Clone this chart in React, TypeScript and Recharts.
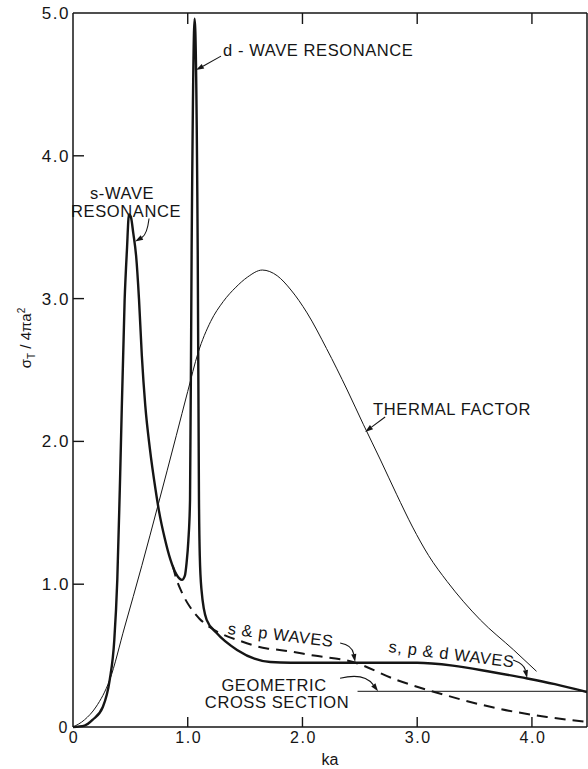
import React from 'react'
import { LineChart, Line, XAxis, YAxis, ReferenceDot } from 'recharts'

// total cross section, s + p + d waves (heavy solid)
const fullKa = [0, 0.1, 0.17, 0.26, 0.32, 0.36, 0.386, 0.41, 0.45, 0.47, 0.488, 0.505, 0.525, 0.55, 0.575, 0.6, 0.63, 0.67, 0.72, 0.75, 0.8, 0.85, 0.9, 0.95, 0.975, 0.99, 1.005, 1.02, 1.034, 1.06, 1.087, 1.098, 1.105, 1.12, 1.165, 1.25, 1.43, 1.72, 1.9, 2.5, 3.0, 3.31, 3.65, 3.96, 4.2, 4.48]
const fullSigma = [0, 0.01, 0.05, 0.14, 0.33, 0.61, 1.03, 1.73, 2.99, 3.34, 3.59, 3.57, 3.46, 3.3, 3.0, 2.6, 2.25, 1.95, 1.66, 1.51, 1.32, 1.17, 1.07, 1.03, 1.06, 1.15, 1.3, 1.59, 3.34, 4.96, 3.34, 1.59, 1.2, 0.96, 0.75, 0.66, 0.54, 0.455, 0.45, 0.45, 0.45, 0.43, 0.385, 0.34, 0.3, 0.245]

// s & p waves only (dashed, where it leaves the full curve)
const spKa = [0.87, 0.9, 0.95, 1.02, 1.1, 1.19, 1.3, 1.43, 1.69, 1.8, 2.1, 2.44, 2.82, 3.26, 3.7, 4.13, 4.48]
const spSigma = [1.13, 1.04, 0.94, 0.84, 0.76, 0.7, 0.65, 0.61, 0.55, 0.54, 0.5, 0.455, 0.33, 0.22, 0.13, 0.07, 0.035]

// thermal factor (thin)
const thermalKa = [0, 0.1, 0.2, 0.32, 0.45, 0.6, 0.74, 0.9, 1.0, 1.09, 1.2, 1.31, 1.42, 1.52, 1.65, 1.78, 1.9, 2.04, 2.21, 2.39, 2.53, 2.68, 2.82, 2.96, 3.1, 3.26, 3.55, 3.84, 4.04]
const thermalSigma = [0, 0.05, 0.14, 0.33, 0.7, 1.13, 1.55, 2.04, 2.35, 2.62, 2.84, 2.98, 3.08, 3.15, 3.2, 3.16, 3.06, 2.9, 2.65, 2.36, 2.12, 1.87, 1.63, 1.4, 1.2, 1.02, 0.75, 0.54, 0.39]

// geometric cross section
const geoKa = [2.48, 4.48]
const geoSigma = [0.25, 0.25]

const xTicks = [0, 1, 2, 3, 4]
const yTicks = [0, 1, 2, 3, 4, 5]

const pairs = (xs: number[], ys: number[]) => xs.map((x, i) => ({ x, y: ys[i] }))
const fullData = pairs(fullKa, fullSigma)
const spData = pairs(spKa, spSigma)
const thermalData = pairs(thermalKa, thermalSigma)
const geoData = pairs(geoKa, geoSigma)

const INK = '#151515'
const FONT = '"Liberation Sans", Arial, sans-serif'

const fmt = (v: number) => (v === 0 ? '0' : v.toFixed(1))

function BottomTick(props: any) {
  const { x, y, payload } = props
  const v = payload.value
  return (
    <g>
      {v !== 0 && <line x1={x} y1={y} x2={x} y2={y - 10} stroke={INK} strokeWidth={1.4} />}
      <text x={x + 1} y={y + 16} textAnchor="middle" fontSize={16} letterSpacing={1.5} fontFamily={FONT} fill={INK}>
        {fmt(v)}
      </text>
    </g>
  )
}

function LeftTick(props: any) {
  const { x, y, payload } = props
  const v = payload.value
  if (v === 0) {
    return (
      <text x={x - 10} y={y + 6} textAnchor="middle" fontSize={16} fontFamily={FONT} fill={INK}>0</text>
    )
  }
  return (
    <g>
      {v !== 5 && <line x1={x} y1={y} x2={x + 11} y2={y} stroke={INK} strokeWidth={1.4} />}
      <text x={x - 3} y={y + 6} textAnchor="end" fontSize={17} letterSpacing={1.5} fontFamily={FONT} fill={INK}>
        {fmt(v)}
      </text>
    </g>
  )
}

function TopTick(props: any) {
  const { x, y } = props
  return <line x1={x} y1={y} x2={x} y2={y + 11} stroke={INK} strokeWidth={1.4} />
}

function RightTick(props: any) {
  const { x, y } = props
  return <line x1={x} y1={y} x2={x - 10} y2={y} stroke={INK} strokeWidth={1.4} />
}

function YTitle() {
  return (
    <text transform="translate(31,338) rotate(-90)" textAnchor="middle" fontSize={15} fontFamily={FONT} fill={INK}>
      σ<tspan fontSize={10} dy={4}>T</tspan>
      <tspan dy={-4}> / 4πa</tspan>
      <tspan fontSize={10} dy={-6}>2</tspan>
    </text>
  )
}

function XTitle() {
  return (
    <text x={330} y={765} textAnchor="middle" fontSize={16} fontFamily={FONT} fill={INK}>ka</text>
  )
}

interface NoteLine {
  text: string
  dx: number
  dy: number
  anchor: 'start' | 'middle'
  rotate?: number
}

interface Note {
  x: number
  y: number
  lines: NoteLine[]
  from: [number, number]
  ctrl?: [number, number]
}

// labels with arrows, anchored on the curve point they point to
const notes: Note[] = [
  { x: 1.072, y: 4.6, from: [25, -14], lines: [{ text: 'd - WAVE  RESONANCE', dx: 27, dy: -14, anchor: 'start' }] },
  {
    x: 0.541, y: 3.4, from: [14, -23], ctrl: [12, -7],
    lines: [
      { text: 's-WAVE', dx: -13, dy: -42, anchor: 'middle' },
      { text: 'RESONANCE', dx: -9, dy: -24, anchor: 'middle' },
    ],
  },
  { x: 2.546, y: 2.066, from: [20, -15], lines: [{ text: 'THERMAL  FACTOR', dx: 8, dy: -17, anchor: 'start' }] },
  { x: 2.459, y: 0.455, from: [-15, -19], ctrl: [-3, -17], lines: [{ text: 's & p WAVES', dx: -128, dy: -28, anchor: 'start', rotate: 7 }] },
  { x: 3.958, y: 0.343, from: [-14, -18], ctrl: [-3, -14], lines: [{ text: 's, p & d WAVES', dx: -139, dy: -26, anchor: 'start', rotate: 7 }] },
  {
    x: 2.659, y: 0.25, from: [-38, -13], ctrl: [-14, -19],
    lines: [
      { text: 'GEOMETRIC', dx: -104, dy: 0, anchor: 'middle' },
      { text: 'CROSS SECTION', dx: -101, dy: 17, anchor: 'middle' },
    ],
  },
]

function NoteMark({ cx, cy, note }: { cx: number; cy: number; note: Note }) {
  const [sx, sy] = note.from
  const [kx, ky] = note.ctrl ?? note.from
  const len = Math.hypot(kx, ky) || 1
  const ux = -kx / len
  const uy = -ky / len
  const bx = cx - ux * 8
  const by = cy - uy * 8
  const px = -uy * 2.6
  const py = ux * 2.6
  const path = note.ctrl
    ? `M${cx + sx},${cy + sy} Q${cx + kx},${cy + ky} ${bx},${by}`
    : `M${cx + sx},${cy + sy} L${bx},${by}`
  return (
    <g>
      <path d={path} fill="none" stroke={INK} strokeWidth={1.1} />
      <path d={`M${cx},${cy} L${bx + px},${by + py} L${bx - px},${by - py} Z`} fill={INK} />
      {note.lines.map((l, i) => {
        const tx = cx + l.dx
        const ty = cy + l.dy
        return (
          <text
            key={i}
            x={tx}
            y={ty}
            textAnchor={l.anchor}
            transform={l.rotate ? `rotate(${l.rotate},${tx},${ty})` : undefined}
            fontSize={16.5}
            letterSpacing={0.6}
            fontFamily={FONT}
            fill={INK}
          >
            {l.text}
          </text>
        )
      })}
    </g>
  )
}

export default function App() {
  const axisLine = { stroke: INK, strokeWidth: 1.5 }
  return (
    <div style={{ position: 'absolute', left: 0, top: 0, width: 588, height: 769, background: '#fff' }}>
      <LineChart width={588} height={769} margin={{ top: 0, right: 0, bottom: 0, left: 0 }}>
        <XAxis
          xAxisId="b"
          type="number"
          dataKey="x"
          domain={[0, 4.48]}
          allowDataOverflow
          ticks={xTicks}
          height={42}
          tickSize={0}
          tickMargin={0}
          tick={<BottomTick />}
          tickLine={false}
          axisLine={axisLine}
          label={<XTitle />}
        />
        <XAxis
          xAxisId="t"
          orientation="top"
          type="number"
          dataKey="x"
          domain={[0, 4.48]}
          allowDataOverflow
          ticks={[1, 2, 3, 4]}
          height={13}
          tickSize={0}
          tickMargin={0}
          tick={<TopTick />}
          tickLine={false}
          axisLine={axisLine}
        />
        <YAxis
          yAxisId="l"
          type="number"
          domain={[0, 5]}
          ticks={yTicks}
          width={73}
          tickSize={0}
          tickMargin={0}
          tick={<LeftTick />}
          tickLine={false}
          axisLine={axisLine}
          label={<YTitle />}
        />
        <YAxis
          yAxisId="r"
          orientation="right"
          type="number"
          domain={[0, 5]}
          ticks={[1, 2, 3, 4]}
          width={1}
          tickSize={0}
          tickMargin={0}
          tick={<RightTick />}
          tickLine={false}
          axisLine={axisLine}
        />
        <Line xAxisId="b" yAxisId="l" data={geoData} dataKey="y" type="linear" stroke={INK} strokeWidth={1} dot={false} isAnimationActive={false} />
        <Line xAxisId="b" yAxisId="l" data={thermalData} dataKey="y" type="monotone" stroke={INK} strokeWidth={1} dot={false} isAnimationActive={false} />
        <Line xAxisId="b" yAxisId="l" data={spData} dataKey="y" type="monotone" stroke={INK} strokeWidth={2} strokeDasharray="11 7" dot={false} isAnimationActive={false} />
        <Line xAxisId="b" yAxisId="l" data={fullData} dataKey="y" type="monotone" stroke={INK} strokeWidth={2.4} dot={false} isAnimationActive={false} />
        {notes.map((n, i) => (
          <ReferenceDot
            key={i}
            xAxisId="b"
            yAxisId="l"
            x={n.x}
            y={n.y}
            r={0}
            ifOverflow="visible"
            shape={(p: any) => <NoteMark cx={p.cx} cy={p.cy} note={n} />}
          />
        ))}
      </LineChart>
    </div>
  )
}
